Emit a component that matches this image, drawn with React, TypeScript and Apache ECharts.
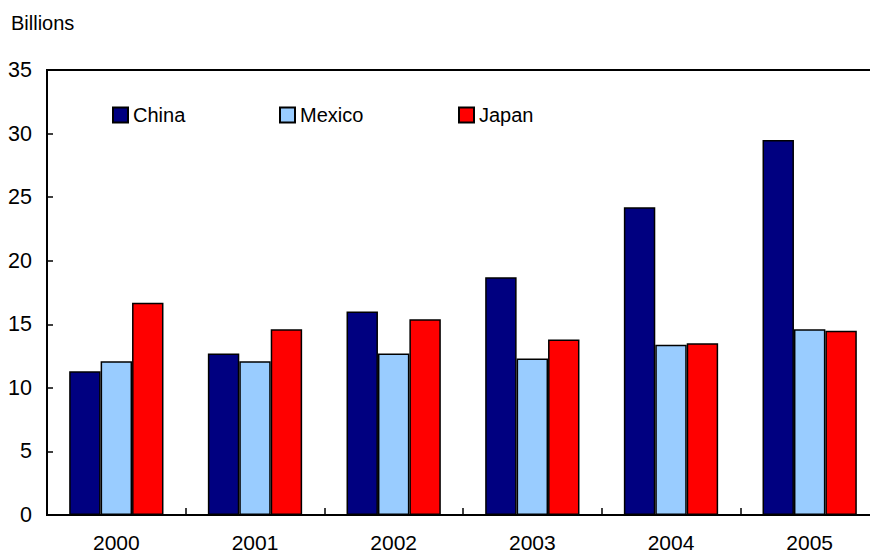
import React, { useEffect, useRef } from "react";
import * as echarts from "echarts";

const years = ["2000", "2001", "2002", "2003", "2004", "2005"];
const china = [11.3, 12.7, 16.0, 18.7, 24.2, 29.5];
const mexico = [12.1, 12.1, 12.7, 12.3, 13.4, 14.6];
const japan = [16.7, 14.6, 15.4, 13.8, 13.5, 14.5];
const yTicks = { min: 0, max: 35, interval: 5 };

const FONT = "Liberation Sans, Arial, sans-serif";

export default function App() {
  const ref = useRef<HTMLDivElement>(null);
  useEffect(() => {
    if (!ref.current) return;
    const chart = echarts.init(ref.current, null, { renderer: "svg" });
    const mkLegend = (name: string, left: number) => ({
      show: true,
      data: [name],
      left,
      top: 105,
      padding: 0,
      itemWidth: 15,
      itemHeight: 15,
      itemGap: 0,
      icon: "rect",
      selectedMode: false,
      textStyle: { fontFamily: FONT, fontSize: 20, color: "#000", padding: [0, 0, 0, 0] },
    });
    const barStyle = (color: string) => ({
      color,
      borderColor: "#000",
      borderWidth: 1.5,
    });
    chart.setOption({
      animation: false,
      backgroundColor: "#fff",
      textStyle: { fontFamily: FONT },
      title: {
        text: "Billions",
        left: 11,
        top: 13,
        padding: 0,
        textStyle: { fontFamily: FONT, fontSize: 20, fontWeight: "normal", color: "#000" },
      },
      legend: [mkLegend("China", 112), mkLegend("Mexico", 279), mkLegend("Japan", 458)],
      grid: {
        left: 47,
        top: 70,
        bottom: 39,
        width: 832,
        show: true,
        borderColor: "#000",
        borderWidth: 2,
        containLabel: false,
        outerBoundsMode: "none",
      },
      xAxis: {
        type: "category",
        data: years,
        axisLine: { lineStyle: { color: "#000", width: 2 } },
        axisTick: { show: true, inside: true, length: 7, alignWithLabel: false, lineStyle: { color: "#000", width: 1.5 } },
        axisLabel: { color: "#000", fontSize: 21, lineHeight: 18, fontFamily: FONT, margin: 18 },
        splitLine: { show: false },
      },
      yAxis: {
        type: "value",
        min: yTicks.min,
        max: yTicks.max,
        interval: yTicks.interval,
        axisLine: { show: true, lineStyle: { color: "#000", width: 2 } },
        axisTick: { show: true, inside: true, length: 6, lineStyle: { color: "#000", width: 1.5 } },
        axisLabel: { color: "#000", fontSize: 21.5, fontFamily: FONT, margin: 15 },
        splitLine: { show: false },
      },
      series: [
        { name: "China", type: "bar", data: china, itemStyle: barStyle("#000080"), barGap: "0%", barCategoryGap: "32%" },
        { name: "Mexico", type: "bar", data: mexico, itemStyle: barStyle("#99CCFF"), barGap: "0%", barCategoryGap: "32%" },
        { name: "Japan", type: "bar", data: japan, itemStyle: barStyle("#FF0000"), barGap: "0%", barCategoryGap: "32%" },
      ],
    });
    return () => chart.dispose();
  }, []);
  return <div ref={ref} style={{ width: 870, height: 554, position: "absolute", left: 0, top: 0 }} />;
}
